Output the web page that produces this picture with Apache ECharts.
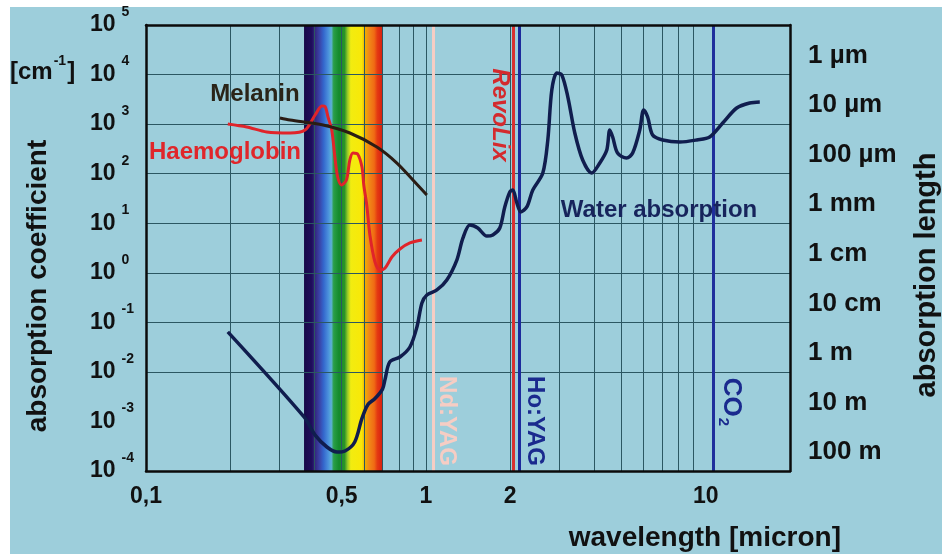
<!DOCTYPE html>
<html><head><meta charset="utf-8">
<script src="https://cdn.jsdelivr.net/npm/echarts@6/dist/echarts.min.js"></script>
<style>html,body{margin:0;padding:0;background:#fff}#c{width:942px;height:554px}</style>
</head><body><div id="c"></div>
<script>
// ---- data (wavelength in micron, absorption coefficient in cm^-1) ----
const waterX = [0.196,0.367,0.402,0.443,0.481,0.514,0.557,0.591,0.621,0.658,0.70,0.714,0.743,0.808,0.877,0.929,0.968,1.008,1.095,1.188,1.29,1.356,1.436,1.533,1.651,1.735,1.837,1.914,1.995,2.045,2.114,2.184,2.295,2.41,2.617,2.727,2.818,2.937,3.06,3.216,3.405,3.633,3.913,4.182,4.43,4.54,4.65,4.84,5.21,5.48,5.81,6.0,6.2,6.46,7.02,8.08,9.29,10.33,11.5,12.9,14.35,15.6];
const waterY = [0.064,0.00123,0.00053,0.000305,0.000242,0.000254,0.000385,0.00115,0.0022,0.0029,0.0045,0.0069,0.0159,0.02,0.0318,0.0805,0.246,0.356,0.45,0.716,1.81,5.0,9.2,8.0,5.5,5.8,8.0,21.3,42.7,46.9,25.6,16.9,21.3,46.9,103,479,4870,10750,9800,3520,662,189,103,164,300,761,550,261,207,261,761,1930,1390,603,479,435,479,550,1054,2114,2670,2800];
const hbX = [0.196,0.229,0.27,0.327,0.37,0.402,0.425,0.436,0.447,0.461,0.473,0.484,0.499,0.52,0.535,0.549,0.571,0.591,0.6,0.615,0.631,0.658,0.685,0.714,0.756,0.808,0.877,0.968];
const hbY = [1005,875,694,662,760,1527,2320,2270,1390,760,217,85.7,59,74.5,189,261,247,136,59,23,5.8,1.65,1.14,1.24,2.08,3.02,4.0,4.6];
const melX = [0.301,0.327,0.429,0.535,0.668,0.788,0.899,1.008];
const melY = [1330,1210,960,662,345,164,74.5,37];
// laser lines
const laserNames = ['Nd:YAG','RevoLix','Ho:YAG','CO2'];
const laserWl = [1.064,2.06,2.15,10.6];
// visible spectrum band
const visibleBand = [0.367,0.697];
// grid / ticks
const xGrid = [0.2,0.3,0.4,0.5,0.6,0.7,0.8,0.9,1,2,3,4,5,6,7,8,9];
const yGrid = [1e-3,1e-2,1e-1,1,1e1,1e2,1e3,1e4];
const xTickValues = [0.1,0.5,1,2,10];
const yTickValues = [1e-4,1e-3,1e-2,1e-1,1,1e1,1e2,1e3,1e4,1e5];
const lengthTickValues = [1e-4,1e-3,1e-2,1e-1,1,1e1,1e2,1e3,1e4];
const lengthLabels = ['100 m','10 m','1 m','10 cm','1 cm','1 mm','100 µm','10 µm','1 µm'];

const F = '"Liberation Sans", Arial, sans-serif';
const pair = (xs, ys) => xs.map((x, i) => [x, ys[i]]);
const chart = echarts.init(document.getElementById('c'));

const laserColors = ['#f6cdc4', '#d93030', '#1c2a9c', '#1f2f9c'];

const option = {
  backgroundColor: '#9dcedb',
  animation: false,
  grid: {left: 146, right: 152, top: 25, bottom: 83},
  xAxis: [
    {type: 'log', logBase: 10, min: 0.1, max: 20, position: 'bottom', z: 5,
     axisLine: {show: true, onZero: false, lineStyle: {color: '#0b0b0b', width: 2.5}},
     axisTick: {show: false}, splitLine: {show: false},
     axisLabel: {customValues: xTickValues, margin: 14, color: '#111', fontFamily: F, fontWeight: 'bold', fontSize: 23,
       formatter: v => String(v).replace('.', ',')}},
    {type: 'log', logBase: 10, min: 0.1, max: 20, position: 'top', z: 5,
     axisLine: {show: true, onZero: false, lineStyle: {color: '#0b0b0b', width: 2.5}},
     axisTick: {show: false}, splitLine: {show: false}, axisLabel: {show: false}}
  ],
  yAxis: [
    {type: 'log', logBase: 10, min: 1e-4, max: 1e5, position: 'left', z: 5,
     axisLine: {show: true, onZero: false, lineStyle: {color: '#0b0b0b', width: 2.5}},
     axisTick: {show: false}, splitLine: {show: false},
     axisLabel: {customValues: yTickValues, align: 'left', margin: 56,
       formatter: v => '{b|10}{s|' + Math.round(Math.log10(v)) + '}',
       rich: {
         b: {fontSize: 23, fontWeight: 'bold', fontFamily: F, color: '#111', lineHeight: 40},
         s: {fontSize: 14, fontWeight: 'bold', fontFamily: F, color: '#111', verticalAlign: 'top', lineHeight: 14, padding: [0, 0, 0, 6]}
       }}},
    {type: 'log', logBase: 10, min: 1e-4, max: 1e5, position: 'right', z: 5,
     axisLine: {show: true, onZero: false, lineStyle: {color: '#0b0b0b', width: 2.5}},
     axisTick: {show: false}, splitLine: {show: false},
     axisLabel: {customValues: lengthTickValues, align: 'left', margin: 18, verticalAlign: 'bottom',
       padding: [0, 0, 6, 0], lineHeight: 26,
       color: '#111', fontFamily: F, fontWeight: 'bold', fontSize: 26,
       formatter: v => lengthLabels[lengthTickValues.findIndex(t => Math.abs(Math.log10(t) - Math.log10(v)) < 0.01)] || ''}}
  ],
  series: [
    {name: 'band', type: 'line', z: 1, data: [[1, 1]], symbol: 'none', lineStyle: {opacity: 0}, silent: true,
     markArea: {silent: true,
       itemStyle: {opacity: 1, color: new echarts.graphic.LinearGradient(0, 0, 1, 0, [
         {offset: 0, color: '#170848'}, {offset: 0.1, color: '#1f0d5c'},
         {offset: 0.14, color: '#35267e'}, {offset: 0.2, color: '#3a44a8'},
         {offset: 0.25, color: '#3466cc'}, {offset: 0.31, color: '#4a90dc'},
         {offset: 0.35, color: '#5cb0d8'}, {offset: 0.38, color: '#2a9e48'},
         {offset: 0.45, color: '#138a2c'}, {offset: 0.52, color: '#2a9428'},
         {offset: 0.56, color: '#9ccc28'}, {offset: 0.6, color: '#f2ec10'},
         {offset: 0.74, color: '#f8e808'}, {offset: 0.78, color: '#eeb000'},
         {offset: 0.83, color: '#f08a18'}, {offset: 0.9, color: '#f06a14'},
         {offset: 0.94, color: '#e43a12'}, {offset: 1, color: '#d82010'}
       ])},
       data: [[{xAxis: visibleBand[0]}, {xAxis: visibleBand[1]}]]}},
    {name: 'grid', type: 'line', z: 5, data: [[1, 1]], symbol: 'none', lineStyle: {opacity: 0}, silent: true,
     markLine: {silent: true, symbol: ['none', 'none'], label: {show: false},
       lineStyle: {color: '#2b5762', width: 1, type: 'solid'},
       data: xGrid.map(v => ({xAxis: v})).concat(yGrid.map(v => ({yAxis: v})))}},
    {name: 'Water absorption', type: 'line', z: 10, data: pair(waterX, waterY), symbol: 'none', smooth: 0.3,
     lineStyle: {color: '#101d4e', width: 3.5}},
    {name: 'Haemoglobin', type: 'line', z: 10, data: pair(hbX, hbY), symbol: 'none', smooth: 0.3,
     lineStyle: {color: '#e0242a', width: 3}},
    {name: 'Melanin', type: 'line', z: 10, data: pair(melX, melY), symbol: 'none', smooth: 0.3,
     lineStyle: {color: '#2a1c14', width: 3}},
    {name: 'lasers', type: 'line', z: 12, data: [[1, 1]], symbol: 'none', lineStyle: {opacity: 0}, silent: true,
     markLine: {silent: true, symbol: ['none', 'none'], label: {show: false},
       data: laserWl.map((v, i) => ({xAxis: v, name: laserNames[i], lineStyle: {color: laserColors[i], width: 3, type: 'solid'}}))}}
  ],
  graphic: [
    {type: 'rect', shape: {x: 0, y: 0, width: 942, height: 7}, style: {fill: '#ffffff'}, silent: true},
    {type: 'rect', shape: {x: 0, y: 0, width: 10, height: 554}, style: {fill: '#ffffff'}, silent: true},
    {type: 'text', x: 255, y: 94, z: 100, style: {text: 'Melanin', x: 0, y: 0, font: 'bold 24px ' + F, fill: '#2a2418', align: 'center', verticalAlign: 'middle', textAlign: 'center', textVerticalAlign: 'middle'}},
    {type: 'text', x: 225, y: 152, z: 100, style: {text: 'Haemoglobin', x: 0, y: 0, font: 'bold 24px ' + F, fill: '#e0262a', align: 'center', verticalAlign: 'middle', textAlign: 'center', textVerticalAlign: 'middle'}},
    {type: 'text', x: 659, y: 210, z: 100, style: {text: 'Water absorption', x: 0, y: 0, font: 'bold 24px ' + F, fill: '#17245c', align: 'center', verticalAlign: 'middle', textAlign: 'center', textVerticalAlign: 'middle'}},
    {type: 'text', x: 500, y: 115, z: 100, rotation: -Math.PI / 2, style: {text: 'RevoLix', x: 0, y: 0, font: 'italic bold 24px ' + F, fill: '#d42a2e', align: 'center', verticalAlign: 'middle', textAlign: 'center', textVerticalAlign: 'middle'}},
    {type: 'text', x: 447, y: 421, z: 100, rotation: -Math.PI / 2, style: {text: 'Nd:YAG', x: 0, y: 0, font: 'bold 24px ' + F, fill: '#f6cdc4', align: 'center', verticalAlign: 'middle', textAlign: 'center', textVerticalAlign: 'middle'}},
    {type: 'text', x: 535, y: 421, z: 100, rotation: -Math.PI / 2, style: {text: 'Ho:YAG', x: 0, y: 0, font: 'bold 24px ' + F, fill: '#1a2a8e', align: 'center', verticalAlign: 'middle', textAlign: 'center', textVerticalAlign: 'middle'}},
    {type: 'text', x: 731, y: 402, z: 100, rotation: -Math.PI / 2, style: {text: '{a|CO}{s|2}', x: 0, y: 0, align: 'center', verticalAlign: 'middle', textAlign: 'center', textVerticalAlign: 'middle',
      rich: {a: {font: 'bold 26px ' + F, fill: '#1a2a8e', color: '#1a2a8e', lineHeight: 30}, s: {font: 'bold 15px ' + F, fill: '#1a2a8e', color: '#1a2a8e', verticalAlign: 'bottom', lineHeight: 15, padding: [0, 0, 0, 1]}}}},
    {type: 'text', x: 10, y: 72, z: 100, style: {text: '{a|[cm}{s|-1}{a|]}', x: 0, y: 0, align: 'left', verticalAlign: 'middle', textAlign: 'left', textVerticalAlign: 'middle',
      rich: {a: {font: 'bold 24px ' + F, fill: '#111', color: '#111', lineHeight: 36}, s: {font: 'bold 14px ' + F, fill: '#111', color: '#111', verticalAlign: 'top', lineHeight: 14, padding: [0, 1, 0, 1]}}}},
    {type: 'text', x: 38, y: 286, z: 100, rotation: Math.PI / 2, style: {text: 'absorption coefficient', x: 0, y: 0, font: 'bold 28px ' + F, fill: '#111', align: 'center', verticalAlign: 'middle', textAlign: 'center', textVerticalAlign: 'middle'}},
    {type: 'text', x: 927, y: 275, z: 100, rotation: Math.PI / 2, style: {text: 'absorption length', x: 0, y: 0, font: 'bold 29px ' + F, fill: '#111', align: 'center', verticalAlign: 'middle', textAlign: 'center', textVerticalAlign: 'middle'}},
    {type: 'text', x: 841, y: 538, z: 100, style: {text: 'wavelength [micron]', x: 0, y: 0, font: 'bold 28px ' + F, fill: '#111', align: 'right', verticalAlign: 'middle', textAlign: 'right', textVerticalAlign: 'middle'}}
  ]
};
chart.setOption(option);
</script>
</body></html>
